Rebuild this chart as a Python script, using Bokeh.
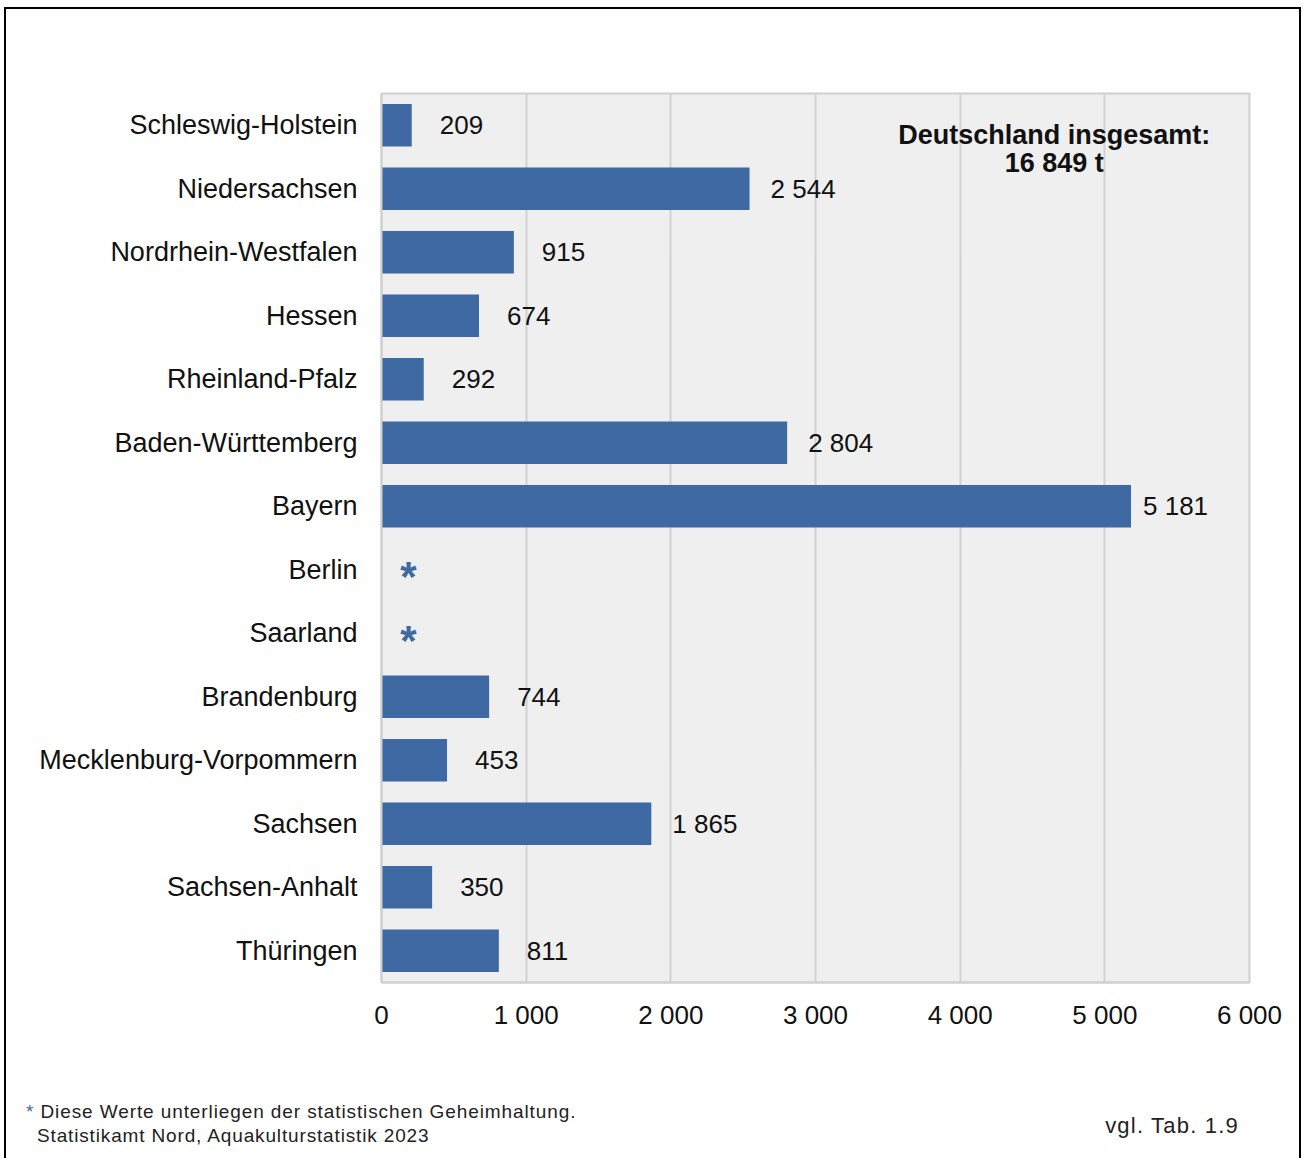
from bokeh.plotting import figure
from bokeh.layouts import column
from bokeh.models import FactorRange, Range1d, FixedTicker, ColumnDataSource, Label, Div
from bokeh.core.properties import value
from bokeh.embed import file_html
from bokeh.resources import INLINE

# ---- data ----
states = ["Schleswig-Holstein", "Niedersachsen", "Nordrhein-Westfalen", "Hessen",
          "Rheinland-Pfalz", "Baden-Württemberg", "Bayern", "Berlin", "Saarland",
          "Brandenburg", "Mecklenburg-Vorpommern", "Sachsen", "Sachsen-Anhalt", "Thüringen"]
production = [209, 2544, 915, 674, 292, 2804, 5181, None, None, 744, 453, 1865, 350, 811]
x_ticks = [0, 1000, 2000, 3000, 4000, 5000, 6000]
x_tick_labels = ["0", "1 000", "2 000", "3 000", "4 000", "5 000", "6 000"]
total_text = ["Deutschland insgesamt:", "16 849 t"]
footnote = "Diese Werte unterliegen der statistischen Geheimhaltung."
source_text = "Statistikamt Nord, Aquakulturstatistik 2023"
ref_text = "vgl. Tab. 1.9"

FONT = "Liberation Sans"
BLUE = "#3e69a3"

def fmt(v):
    return f"{v:,}".replace(",", " ")

avail_states = [s for s, v in zip(states, production) if v is not None]
avail_vals = [v for v in production if v is not None]
avail_labels = [fmt(v) for v in avail_vals]
offsets = [12 if v > 5000 else (28 if len(fmt(v)) <= 3 else 21) for v in avail_vals]
secret_states = [s for s, v in zip(states, production) if v is None]

bars = ColumnDataSource(dict(y=avail_states, right=avail_vals, label=avail_labels, off=offsets))
secret = ColumnDataSource(dict(y=secret_states, x=[0] * len(secret_states), t=["*"] * len(secret_states)))

W, H1, H2 = 1293, 1060, 100
p = figure(width=W, height=H1,
           y_range=FactorRange(factors=states[::-1], range_padding=0),
           x_range=Range1d(0, 6000),
           output_backend="svg", toolbar_location=None,
           min_border_left=375, min_border_right=50,
           min_border_top=84, min_border_bottom=87)

p.background_fill_color = "#efefef"
p.border_fill_color = "white"
p.outline_line_color = "#d0d0d0"
p.outline_line_width = 2

p.hbar(y="y", right="right", left=0, height=0.67, source=bars, color=BLUE, line_color=None)
p.text(x="right", y="y", text="label", x_offset="off", source=bars,
       text_baseline="middle", text_align="left", text_font=value(FONT),
       text_font_size="26px", text_color="#111111")
p.text(x="x", y="y", text="t", source=secret, x_offset=27, y_offset=7,
       text_baseline="middle", text_align="center", text_font=value(FONT),
       text_font_style="bold", text_font_size="42px", text_color=BLUE)

# axes
p.xaxis.ticker = FixedTicker(ticks=x_ticks)
p.xaxis.major_label_overrides = {t: l for t, l in zip(x_ticks, x_tick_labels)}
p.xaxis.major_label_text_font = FONT
p.xaxis.major_label_text_font_size = "26px"
p.xaxis.major_label_text_color = "#111111"
p.xaxis.major_label_standoff = 11
p.xaxis.axis_line_color = "#d0d0d0"
p.xaxis.axis_line_width = 2
p.xaxis.major_tick_line_color = None
p.xaxis.minor_tick_line_color = None

p.yaxis.major_label_text_font = FONT
p.yaxis.major_label_text_font_size = "27px"
p.yaxis.major_label_text_color = "#111111"
p.yaxis.major_label_standoff = 18
p.yaxis.axis_line_color = "#d0d0d0"
p.yaxis.axis_line_width = 2
p.yaxis.major_tick_line_color = None
p.yaxis.minor_tick_line_color = None

p.xgrid.grid_line_color = "#d2d2d2"
p.xgrid.grid_line_width = 2
p.ygrid.grid_line_color = None

# total annotation
for txt, yy in zip(total_text, [13.35, 12.9]):
    p.add_layout(Label(x=4650, y=yy, text=txt, text_align="center", text_baseline="middle",
                       text_font=FONT, text_font_style="bold", text_font_size="27px",
                       text_color="#111111"))

# footer (notes and source)
footer_html = (
    f'<div style="position:relative;width:{W}px;height:{H2}px;'
    f'font-family:\'{FONT}\';color:#222222;">'
    f'<div style="position:absolute;left:20px;top:32px;font-size:19px;line-height:22px;'
    f'letter-spacing:0.9px;white-space:nowrap;"><span style="color:{BLUE};">*</span> {footnote}</div>'
    f'<div style="position:absolute;left:31px;top:56px;font-size:19px;line-height:22px;'
    f'letter-spacing:0.85px;white-space:nowrap;">{source_text}</div>'
    f'<div style="position:absolute;right:60px;top:44px;font-size:22px;line-height:25px;'
    f'letter-spacing:1.2px;white-space:nowrap;">{ref_text}</div>'
    f'</div>'
)
f = Div(text=footer_html, width=W, height=H2, margin=0)

layout = column(p, f, spacing=0)
layout.styles = {"border": "2px solid #000", "margin-left": "4px", "margin-top": "7px"}

open("out.html", "w").write(file_html(layout, INLINE))
